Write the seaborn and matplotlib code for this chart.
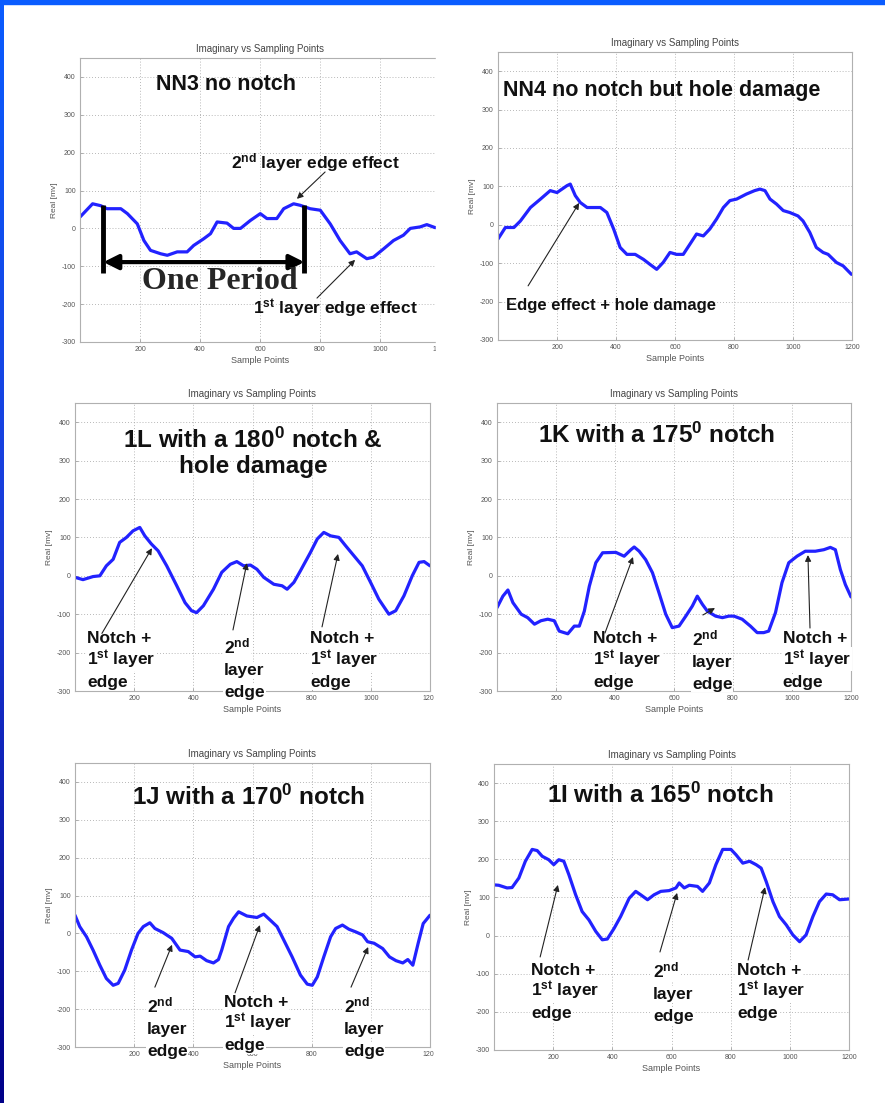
import matplotlib
matplotlib.use("Agg")
import matplotlib.pyplot as plt
from matplotlib.patches import Rectangle
from matplotlib.colors import LinearSegmentedColormap
import numpy as np
import pandas as pd
import seaborn as sns

# ---------------------------------------------------------------- data
TITLE = "Imaginary vs Sampling Points"
XLABEL = "Sample Points"
YLABEL = "Real [mv]"
XTICKS = [200, 400, 600, 800, 1000, 1200]
YTICKS = [-300, -200, -100, 0, 100, 200, 300, 400]

nn3_x = [0, 42, 69, 90, 136, 158, 191, 213, 235, 269, 291, 324, 357, 379, 413,
         435, 457, 490, 512, 535, 568, 601, 623, 656, 679, 712, 734, 767, 801,
         834, 867, 900, 922, 956, 978, 1012, 1045, 1078, 1101, 1134, 1156, 1184, 1200]
nn3_y = [30, 65, 60, 52, 52, 39, 12, -32, -58, -67, -71, -62, -62, -45, -27,
         -14, 17, 14, 0, 0, 21, 39, 26, 26, 52, 65, 61, 52, 48,
         12, -32, -67, -62, -80, -76, -54, -32, -18, 0, 4, 10, 2, 4]

nn4_x = [0, 25, 54, 76, 110, 144, 177, 200, 234, 245, 262, 279, 302, 347, 369,
         392, 414, 437, 465, 493, 515, 538, 560, 583, 605, 628, 651, 673, 696,
         718, 741, 764, 786, 809, 842, 870, 888, 905, 922, 944, 967, 989, 1017,
         1034, 1057, 1079, 1102, 1119, 1147, 1170, 1198]
nn4_y = [-37, -7, -7, 10, 45, 67, 89, 84, 102, 106, 76, 58, 45, 45, 32,
         -11, -59, -77, -77, -90, -103, -116, -98, -72, -77, -77, -50, -24, -29,
         -11, 15, 45, 63, 67, 80, 89, 93, 89, 67, 54, 37, 32, 23,
         10, -20, -59, -72, -77, -98, -107, -129]

l1_x = [0, 27, 61, 84, 106, 129, 151, 174, 196, 219, 236, 258, 281, 310, 344,
        372, 394, 411, 434, 468, 496, 525, 547, 570, 593, 615, 638, 672, 700,
        717, 740, 762, 796, 819, 841, 864, 892, 915, 943, 971, 999, 1027, 1061,
        1084, 1112, 1140, 1163, 1180, 1200]
l1_y = [-4, -10, -2, 0, 26, 43, 87, 100, 117, 126, 104, 83, 65, 26, -26,
        -70, -91, -96, -78, -35, 9, 30, 37, 26, 28, 17, -4, -22, -26,
        -35, -17, 13, 61, 96, 113, 104, 100, 78, 52, 26, -17, -61, -100,
        -91, -52, 0, 35, 37, 26]

k1_x = [0, 20, 37, 54, 82, 104, 127, 149, 172, 194, 211, 240, 262, 279, 296,
        313, 335, 358, 403, 431, 454, 465, 482, 504, 527, 549, 572, 594, 617,
        640, 662, 679, 696, 713, 741, 764, 786, 803, 831, 859, 882, 904, 921,
        944, 966, 989, 1017, 1045, 1079, 1108, 1130, 1147, 1164, 1181, 1200]
k1_y = [-83, -53, -37, -70, -100, -109, -126, -117, -113, -117, -144, -151, -131, -131, -92,
        -27, 34, 60, 61, 51, 68, 75, 64, 42, 8, -44, -100, -135, -131,
        -105, -79, -53, -74, -92, -105, -109, -105, -105, -113, -131, -148, -148, -144,
        -96, -18, 34, 51, 64, 64, 68, 74, 68, 16, -23, -55]

j1_x = [0, 16, 39, 61, 84, 106, 129, 146, 168, 191, 213, 231, 253, 270, 298,
        327, 355, 383, 406, 423, 445, 468, 485, 496, 519, 536, 553, 581, 615,
        638, 660, 683, 706, 734, 762, 785, 802, 819, 841, 864, 881, 904, 926,
        949, 972, 989, 1011, 1040, 1063, 1085, 1108, 1125, 1142, 1160, 1177, 1200]
j1_y = [48, 18, -9, -44, -84, -119, -137, -132, -97, -44, 0, 18, 28, 13, 2,
        -13, -44, -48, -62, -60, -72, -78, -69, -44, 18, 40, 57, 46, 42,
        51, 35, 18, -18, -62, -110, -134, -137, -115, -62, -9, 13, 22, 11,
        4, -4, -22, -26, -40, -62, -72, -78, -69, -84, -26, 26, 48]

i1_x = [0, 16, 44, 61, 84, 106, 129, 146, 163, 185, 202, 219, 236, 253, 276,
        298, 321, 344, 366, 383, 406, 428, 457, 479, 496, 519, 541, 564, 592,
        615, 626, 643, 660, 688, 705, 728, 750, 773, 801, 818, 841, 864, 886,
        903, 920, 943, 965, 988, 1010, 1033, 1055, 1078, 1100, 1123, 1145, 1168, 1200]
i1_y = [133, 132, 125, 126, 151, 195, 226, 223, 208, 199, 186, 199, 195, 160, 107,
        63, 41, 11, -11, -9, 19, 50, 98, 116, 107, 94, 107, 116, 118,
        125, 138, 125, 132, 129, 116, 138, 186, 226, 226, 212, 190, 195, 186,
        177, 142, 89, 50, 28, 2, -16, 2, 50, 89, 109, 107, 94, 96]

# sample span of one period in the NN3 record
period_start, period_end = 78, 748

# ---------------------------------------------------------------- style
sns.set_theme(style="white")
plt.rcParams["font.family"] = ["Liberation Sans", "DejaVu Sans"]
plt.rcParams["axes.unicode_minus"] = False
plt.rcParams["mathtext.fontset"] = "custom"
plt.rcParams["mathtext.rm"] = "Liberation Sans:bold"
plt.rcParams["mathtext.bf"] = "Liberation Sans:bold"
plt.rcParams["mathtext.it"] = "Liberation Sans:bold:italic"

W, H = 885, 1103
fig = plt.figure(figsize=(W / 100, H / 100), dpi=100)
fig.patch.set_facecolor("white")

LINE = "#2222ff"
ANN = dict(arrowstyle="-|>", color="#222222", lw=0.8, mutation_scale=9,
           shrinkA=0, shrinkB=0)
LEAD = 15.7  # points between baselines of stacked callout lines
PAPER = dict(boxstyle="square,pad=0.05", facecolor="white", edgecolor="none")


def panel(left, right, top, bottom, xs, ys):
    ax = fig.add_axes([left / W, 1 - bottom / H, (right - left) / W, (bottom - top) / H])
    df = pd.DataFrame({"x": xs, "y": ys})
    sns.lineplot(data=df, x="x", y="y", ax=ax, color=LINE, lw=2.3,
                 legend=False, sort=False, estimator=None)
    ax.set_xlim(0, 1200)
    ax.set_ylim(-300, 450)
    ax.set_xticks(XTICKS)
    ax.set_yticks(YTICKS)
    ax.grid(True, linestyle=(0, (1, 2.5)), color="#a0a0a0", lw=0.6)
    for s in ax.spines.values():
        s.set_color("#b0b0b0")
        s.set_linewidth(0.8)
    ax.tick_params(direction="in", length=2.5, width=0.6, color="#a0a0a0",
                   labelsize=5, labelcolor="#555555", pad=3,
                   bottom=True, left=True)
    ax.set_title(TITLE, fontsize=7, color="#444444", pad=4)
    ax.set_xlabel(XLABEL, fontsize=6.5, color="#555555", labelpad=2)
    ax.set_ylabel(YLABEL, fontsize=6, color="#555555", labelpad=3)
    return ax


def label(ax, x, y, s, size, ha="left", va="center"):
    ax.text(x, y, s, fontsize=size, fontweight="bold", ha=ha, va=va,
            color="#111111", zorder=5, linespacing=1.15)


def block(ax, x, y, lines, size=12.5):
    """Stack callout lines with a fixed baseline-to-baseline lead."""
    for i, line in enumerate(lines):
        ax.annotate(line, xy=(x, y), xytext=(0, -i * LEAD),
                    textcoords="offset points", ha="left", va="baseline",
                    fontsize=size, fontweight="bold", color="#111111",
                    zorder=5, annotation_clip=False, bbox=PAPER)


def pointer(ax, tail, tip):
    ax.annotate("", xy=tip, xytext=tail, arrowprops=ANN, zorder=5)


NOTCH = ["Notch +", "1$^{\\mathrm{st}}$ layer", "edge"]
SECOND = ["2$^{\\mathrm{nd}}$", "layer", "edge"]

# ---- NN3
ax = panel(80, 440, 58, 342, nn3_x, nn3_y)
label(ax, 253, 381, "NN3 no notch", 15.5)
label(ax, 503, 173, "2$^{\\mathrm{nd}}$ layer edge effect", 12.5)
pointer(ax, (817, 149), (723, 78))
label(ax, 577, -213, "1$^{\\mathrm{st}}$ layer edge effect", 12.5)
pointer(ax, (790, -184), (917, -83))
ax.vlines([period_start, period_end], -118, 62, color="black", lw=3.5, zorder=6)
ax.annotate("", xy=(period_end, -89), xytext=(period_start, -89), zorder=6,
            arrowprops=dict(arrowstyle="<|-|>", color="black", lw=3,
                            mutation_scale=22, shrinkA=0, shrinkB=0))
ax.text(467, -141, "One Period", fontsize=23, fontweight="bold",
        family="Liberation Serif", ha="center", va="center", zorder=6)

# ---- NN4
ax = panel(498, 852, 52, 340, nn4_x, nn4_y)
label(ax, 17, 351, "NN4 no notch but hole damage", 15.5)
label(ax, 27, -209, "Edge effect + hole damage", 12)
pointer(ax, (102, -159), (275, 57))

# ---- 1L
ax = panel(75, 430, 403, 691, l1_x, l1_y)
label(ax, 602, 320, "1L with a 180$^{\\mathrm{0}}$ notch &\nhole damage", 17.5, ha="center")
block(ax, 41, -175, NOTCH)
pointer(ax, (91, -150), (260, 72))
block(ax, 504, -201, SECOND)
pointer(ax, (534, -141), (581, 33))
block(ax, 794, -175, NOTCH)
pointer(ax, (835, -133), (889, 57))

# ---- 1K
ax = panel(497, 851, 403, 691, k1_x, k1_y)
label(ax, 139, 367, "1K with a 175$^{\\mathrm{0}}$ notch", 17.5)
block(ax, 325, -175, NOTCH)
pointer(ax, (366, -149), (461, 49))
block(ax, 661, -180, SECOND)
pointer(ax, (698, -102), (739, -84))
block(ax, 969, -175, NOTCH)
pointer(ax, (1061, -136), (1054, 54))

# ---- 1J
ax = panel(75, 430, 763, 1047, j1_x, j1_y)
label(ax, 193, 360, "1J with a 170$^{\\mathrm{0}}$ notch", 17.5)
block(ax, 243, -208, SECOND)
pointer(ax, (270, -142), (328, -30))
block(ax, 504, -194, NOTCH)
pointer(ax, (541, -157), (625, 22))
block(ax, 909, -208, SECOND)
pointer(ax, (933, -142), (991, -36))

# ---- 1I
ax = panel(494, 849, 764, 1050, i1_x, i1_y)
label(ax, 179, 369, "1I with a 165$^{\\mathrm{0}}$ notch", 17.5)
block(ax, 125, -103, NOTCH)
pointer(ax, (156, -56), (216, 133))
block(ax, 538, -109, SECOND)
pointer(ax, (561, -43), (619, 112))
block(ax, 822, -103, NOTCH)
pointer(ax, (859, -64), (916, 127))

# ---- slide frame: white gutter between the columns, blue edges
fig.add_artist(Rectangle((436 / W, 1 - 366 / H), 16 / W, 362 / H,
                         transform=fig.transFigure, color="white", zorder=20))
fig.add_artist(Rectangle((434 / W, 0), 18 / W, 1 - 366 / H,
                         transform=fig.transFigure, color="white", zorder=20))
fig.add_artist(Rectangle((0, 1 - 4 / H), 1, 4 / H, transform=fig.transFigure,
                         color="#0a5cff", zorder=30))
strip = fig.add_axes([0, 0, 4 / W, 1])
strip.imshow(np.linspace(0, 1, 256).reshape(-1, 1), aspect="auto",
             cmap=LinearSegmentedColormap.from_list(
                 "edge", ["#0a5cff", "#1a3ad8", "#000088"]))
strip.set_axis_off()

fig.savefig("out.png", dpi=100, facecolor="white")
